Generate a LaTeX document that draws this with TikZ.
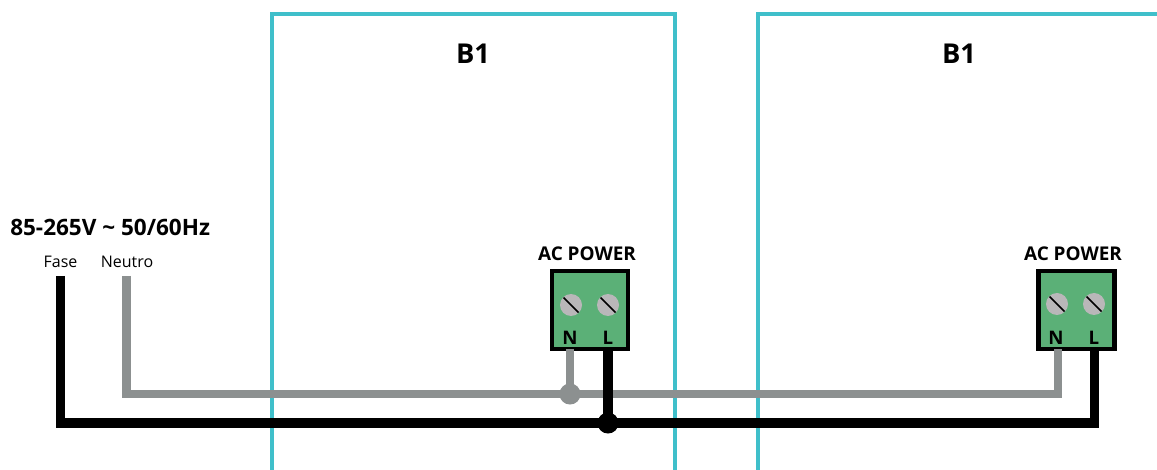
\documentclass[tikz,border=0pt]{standalone}
\usepackage{fontspec}
\setmainfont{Open Sans}
\definecolor{teal1}{HTML}{3FBFCA}
\definecolor{wiregray}{HTML}{8C9090}
\definecolor{termgreen}{HTML}{5BB077}
\definecolor{screwgray}{HTML}{B9B7B9}
\begin{document}
\begin{tikzpicture}[x=0.75pt,y=-0.75pt,
  panel/.style={draw=teal1,line width=3pt},
  wireN/.style={draw=wiregray,line width=6.6pt,line join=miter},
  wireL/.style={draw=black,line width=6.8pt,line join=miter},
  term/.style={draw=black,fill=termgreen,line width=3.2pt,minimum width=57pt,minimum height=59pt,inner sep=0pt,anchor=center},
  screw/.style={circle,fill=screwgray,minimum size=16.5pt,inner sep=0pt},
  slot/.style={draw=black,line width=1.2pt},
  dotN/.style={circle,fill=wiregray,minimum size=15.8pt,inner sep=0pt},
  dotL/.style={circle,fill=black,minimum size=15.8pt,inner sep=0pt},
  lab/.style={font=\fontsize{12pt}{13pt}\selectfont,text=black,inner sep=0pt},
  pin/.style={font=\fontsize{14pt}{15pt}\selectfont\bfseries,text=black,inner sep=0pt},
  title/.style={font=\fontsize{20.5pt}{22pt}\selectfont\bfseries,text=black,inner sep=0pt},
  head/.style={font=\fontsize{14.2pt}{16pt}\selectfont\bfseries,text=black,inner sep=0pt},
  volt/.style={font=\fontsize{16.9pt}{18pt}\selectfont\bfseries,text=black,inner sep=0pt}]
\useasboundingbox (0,0) rectangle (1157,470);
% panels
\draw[panel] (272,470) -- (272,14) -- (675,14) -- (675,470);
\draw[panel] (1157,14) -- (758,14) -- (758,470);
\node[title] (b1a) at (473,54) {B1};
\node[title] (b1b) at (959,54) {B1};
% terminals
\node[term] (t1) at (590,310) {};
\node[term] (t2) at (1076.5,310) {};
\coordinate (t1n) at (570,349);
\coordinate (t1l) at (608,349);
\coordinate (t2n) at (1058,349);
\coordinate (t2l) at (1094.5,349);
\coordinate (fasetop) at (60.5,276);
\coordinate (neutop) at (126.5,276);
% junctions
\node[dotN] (jn) at (570,394) {};
\node[dotL] (jl) at (608,423) {};
% wires
\draw[wireN] (neutop) -- (neutop |- jn) -- (jn.center) -- (t2n |- jn) -- (t2n);
\draw[wireN] (t1n) -- (jn.center);
\draw[wireL] (fasetop) -- (fasetop |- jl) -- (jl.center) -- (t2l |- jl) -- (t2l);
\draw[wireL] (t1l) -- (jl.center);
% screws
\foreach \n/\x/\y in {s1/571/305,s2/608/305,s3/1057/304,s4/1094/304}{
  \node[screw] (\n) at (\x,\y) {};
  \draw[slot] ([shift={(-7.5,-7.5)}]\n.center) -- ([shift={(7.5,7.5)}]\n.center);
}
\node[pin] (na) at (570,338) {N};
\node[pin] (la) at (608,338) {L};
\node[pin] (nb) at (1056,338) {N};
\node[pin] (lb) at (1094,338) {L};
\node[head] (ac1) at (587,254) {AC POWER};
\node[head] (ac2) at (1073,254) {AC POWER};
\node[volt,anchor=west] (v) at (10,227) {85-265V \char"007E{} 50/60Hz};
\node[lab] (fase) at (60.5,262) {Fase};
\node[lab] (neutro) at (127,262) {Neutro};
\end{tikzpicture}
\end{document}
